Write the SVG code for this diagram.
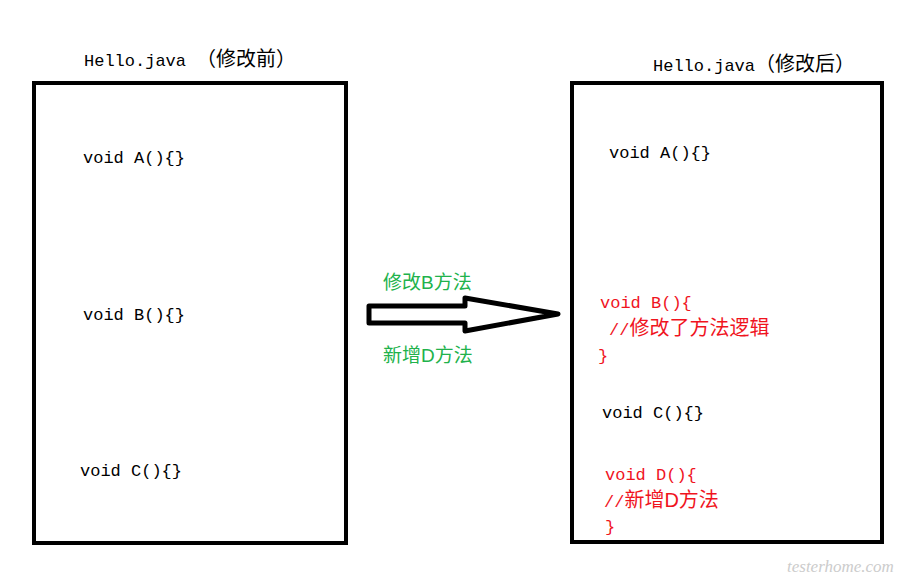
<svg xmlns="http://www.w3.org/2000/svg" width="911" height="584" viewBox="0 0 911 584">
<style>
.box{fill:#fff;stroke:#000;stroke-width:4}
.c{font-family:"Liberation Mono","Noto Sans CJK SC",monospace;font-size:17px;fill:#000}
.r{fill:#f0141e}
.z{font-family:"Liberation Sans","Noto Sans CJK SC",sans-serif;font-size:20px}
.g{fill:#21b24b;font-family:"Liberation Sans","Noto Sans CJK SC",sans-serif;font-size:19px}
</style>
<rect width="911" height="584" fill="#fff"/>
<g id="left">
<text class="c" x="84" y="66">Hello.java</text><text class="z" x="196" y="66">（修改前）</text>
<rect class="box" x="34" y="83" width="312" height="460"/>
<text class="c" x="83" y="163">void A(){}</text>
<text class="c" x="83" y="320">void B(){}</text>
<text class="c" x="80" y="476">void C(){}</text>
</g>
<g id="right">
<text class="c" x="653" y="71">Hello.java</text><text class="z" x="755" y="71">（修改后）</text>
<rect class="box" x="572" y="83" width="310" height="459"/>
<text class="c" x="609" y="158">void A(){}</text>
<text class="c r" x="600" y="308">void B(){</text>
<text class="c r" x="609" y="335">//<tspan class="z">修改了方法逻辑</tspan></text>
<text class="c r" x="598" y="361">}</text>
<text class="c" x="602" y="418">void C(){}</text>
<text class="c r" x="605" y="480">void D(){</text>
<text class="c r" x="604" y="507">//<tspan class="z">新增D方法</tspan></text>
<text class="c r" x="605" y="532">}</text>
</g>
<g id="connectors">
<polygon points="369,306 465,306 465,298 558,314 465,331 465,323 369,323" fill="#fff" stroke="#000" stroke-width="5" stroke-linejoin="round"/>
<text class="g" x="383" y="289">修改B方法</text>
<text class="g" x="383" y="362">新增D方法</text>
</g>
<text x="787" y="572" font-family="Liberation Serif,serif" font-style="italic" font-size="17" fill="#ccc">testerhome.com</text>
</svg>
